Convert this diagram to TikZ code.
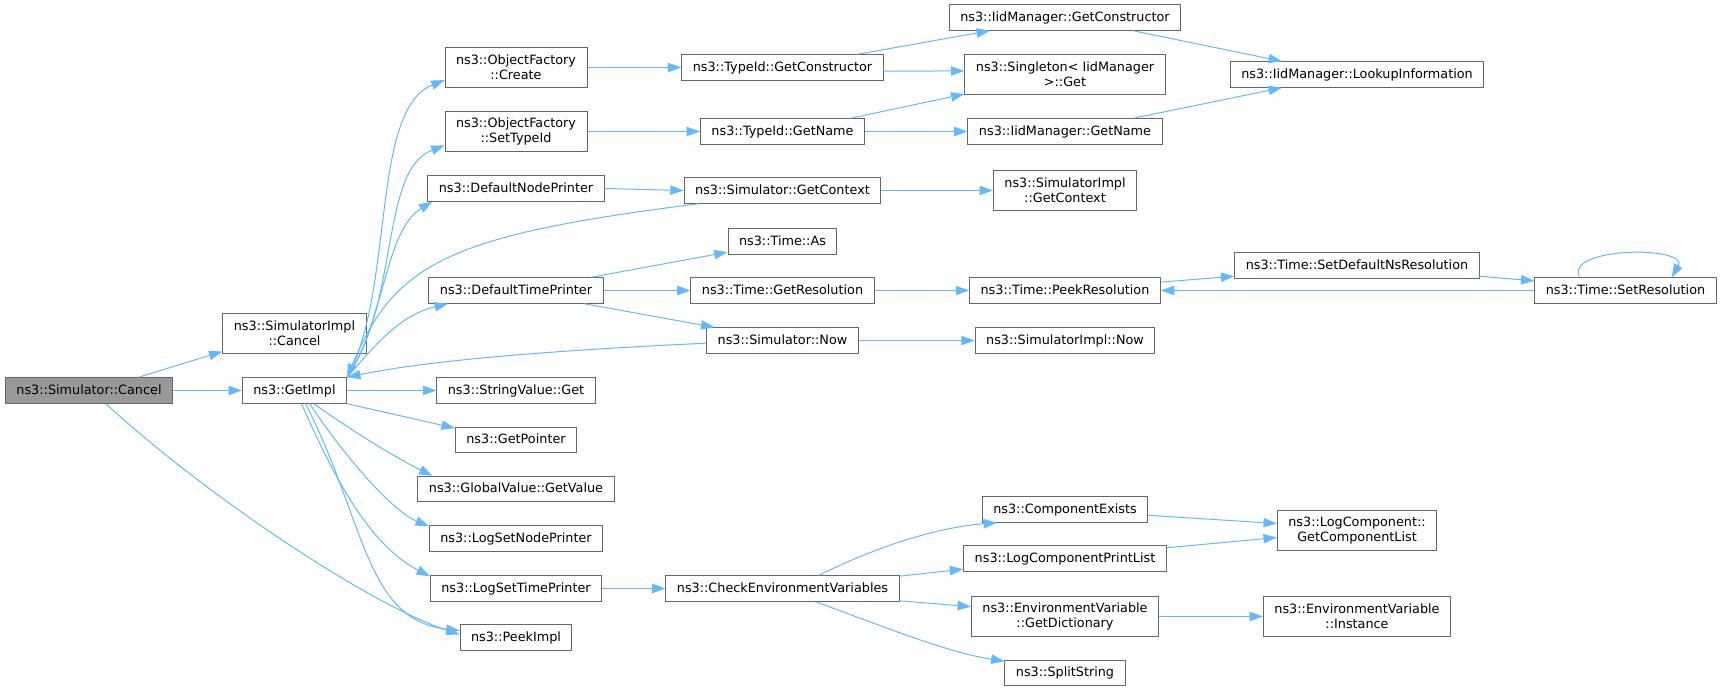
\documentclass[tikz,border=0pt]{standalone}
\usepackage{fontspec}
\usepackage{tikz}
\usetikzlibrary{arrows.meta}

\newfontfamily\graphfont{DejaVu Sans}
\newcommand{\nodefont}{\graphfont\fontsize{9.6pt}{11.25pt}\selectfont}
\definecolor{boxgray}{HTML}{666666}
\definecolor{rootgray}{HTML}{999999}
\definecolor{edgeblue}{HTML}{63B8FF}

\tikzset{
  fnbase/.style={draw=boxgray, fill=white, line width=0.75pt, font=\nodefont, inner xsep=8.25pt, inner ysep=0pt},
  fn/.style={fnbase, minimum height=19.1pt, text height=7.2pt, text depth=1.9pt},
  fntwo/.style={fnbase, minimum height=30pt, align=center},
  root/.style={fn, fill=rootgray},
  call/.style={draw=edgeblue, line width=0.75pt, -{Triangle[length=10pt,width=7pt]}}
}

\begin{document}
\begin{tikzpicture}[x=0.75pt, y=-0.75pt]
\useasboundingbox (0,0) rectangle (1723,691);

\node[root] (cancel) at (89,390.5) {ns3::Simulator::Cancel};
\node[fntwo] (simcancel) at (294.5,333.5) {ns3::SimulatorImpl\\::Cancel};
\node[fn] (getimpl) at (294.5,390.5) {ns3::GetImpl};

\node[fntwo] (ofcreate) at (516,67.5) {ns3::ObjectFactory\\::Create};
\node[fntwo] (ofsettype) at (516,131.5) {ns3::ObjectFactory\\::SetTypeId};
\node[fn] (nodeprinter) at (516,188.5) {ns3::DefaultNodePrinter};
\node[fn] (timeprinter) at (516,290.5) {ns3::DefaultTimePrinter};
\node[fn] (strget) at (516,390.5) {ns3::StringValue::Get};
\node[fn] (getptr) at (516,440) {ns3::GetPointer};
\node[fn] (gvget) at (516,489) {ns3::GlobalValue::GetValue};
\node[fn] (lognode) at (516,538.5) {ns3::LogSetNodePrinter};
\node[fn] (logtime) at (516,588.5) {ns3::LogSetTimePrinter};
\node[fn] (peekimpl) at (516,637.5) {ns3::PeekImpl};

\node[fn] (tidctor) at (782.5,67.5) {ns3::TypeId::GetConstructor};
\node[fn] (tidname) at (782.5,131.5) {ns3::TypeId::GetName};
\node[fn] (simctx) at (782.5,190.5) {ns3::Simulator::GetContext};
\node[fn] (timeas) at (782.5,241.5) {ns3::Time::As};
\node[fn] (getres) at (782.5,290.5) {ns3::Time::GetResolution};
\node[fn] (simnow) at (782.5,340.5) {ns3::Simulator::Now};
\node[fn] (checkenv) at (782.5,588.5) {ns3::CheckEnvironmentVariables};

\node[fn] (iidctor) at (1065,17.5) {ns3::IidManager::GetConstructor};
\node[fntwo] (singleton) at (1065,74.5) {ns3::Singleton< IidManager\\>::Get};
\node[fn] (iidname) at (1065,131.5) {ns3::IidManager::GetName};
\node[fntwo] (implctx) at (1065,190.5) {ns3::SimulatorImpl\\::GetContext};
\node[fn] (peekres) at (1065,290.5) {ns3::Time::PeekResolution};
\node[fn] (implnow) at (1065,340.5) {ns3::SimulatorImpl::Now};
\node[fn] (compexists) at (1065,509.5) {ns3::ComponentExists};
\node[fn] (printlist) at (1065,558.5) {ns3::LogComponentPrintList};
\node[fntwo] (getdict) at (1065,616.5) {ns3::EnvironmentVariable\\::GetDictionary};
\node[fn] (splitstr) at (1065,673) {ns3::SplitString};

\node[fn] (lookup) at (1357,74.5) {ns3::IidManager::LookupInformation};
\node[fn] (setdefres) at (1357,265.5) {ns3::Time::SetDefaultNsResolution};
\node[fntwo] (getcomplist) at (1357,530.5) {ns3::LogComponent::\\GetComponentList};
\node[fntwo] (envinst) at (1357,616.5) {ns3::EnvironmentVariable\\::Instance};
\node[fn] (setres) at (1625.5,290.5) {ns3::Time::SetResolution};

\foreach \a/\b in {cancel/getimpl, getimpl/strget, ofcreate/tidctor, ofsettype/tidname,
    tidname/iidname, nodeprinter/simctx, simctx/implctx, timeprinter/getres, getres/peekres,
    simnow/implnow, logtime/checkenv, getdict/envinst}
  \draw[call] (\a.east) -- (\b.west);

\foreach \a/\b in {cancel.15/simcancel.194, getimpl.south east/getptr.169,
    tidctor.10/iidctor.190, tidctor.358/singleton.178, tidname.11/singleton.191,
    iidctor.349/lookup.170, iidname.11/lookup.190, timeprinter.10/timeas.191,
    timeprinter.349/simnow.169, peekres.5/setdefres.185, setdefres.355/setres.174,
    setres.west/peekres.east, checkenv.6/printlist.186, checkenv.354/getdict.174,
    compexists.356/getcomplist.175, printlist.6/getcomplist.185}
  \draw[call] (\a) -- (\b);

\draw[call] (getimpl.north east) .. controls (395,290) and (370,110) .. (ofcreate.190);
\draw[call] (getimpl.north east) .. controls (400,300) and (380,170) .. (ofsettype.191);
\draw[call] (getimpl.north east) .. controls (385,320) and (385,230) .. (nodeprinter.189);
\draw[call] (getimpl.north east) .. controls (375,345) and (400,315) .. (timeprinter.191);
\draw[call] (simctx.189) .. controls (450,235) and (395,262) .. (getimpl.north east);
\draw[call] (simnow.182) .. controls (560,350) and (430,360) .. (getimpl.north east);
\draw[call] (getimpl.326) .. controls (350,430) and (400,460) .. (gvget.171);
\draw[call] (getimpl.319) .. controls (340,450) and (390,510) .. (lognode.172);
\draw[call] (getimpl.298) .. controls (335,480) and (370,545) .. (logtime.172);
\draw[call] (getimpl.310) .. controls (365,520) and (365,620) .. (peekimpl.173);
\draw[call] (cancel.322) .. controls (205,495) and (370,605) .. (peekimpl.177);
\draw[call] (checkenv.20) .. controls (880,545) and (940,527) .. (compexists.191);
\draw[call] (checkenv.338) .. controls (880,625) and (945,652) .. (splitstr.169);
\draw[call] (setres.164) .. controls (1565,246) and (1690,246) .. (setres.16);
\end{tikzpicture}
\end{document}
